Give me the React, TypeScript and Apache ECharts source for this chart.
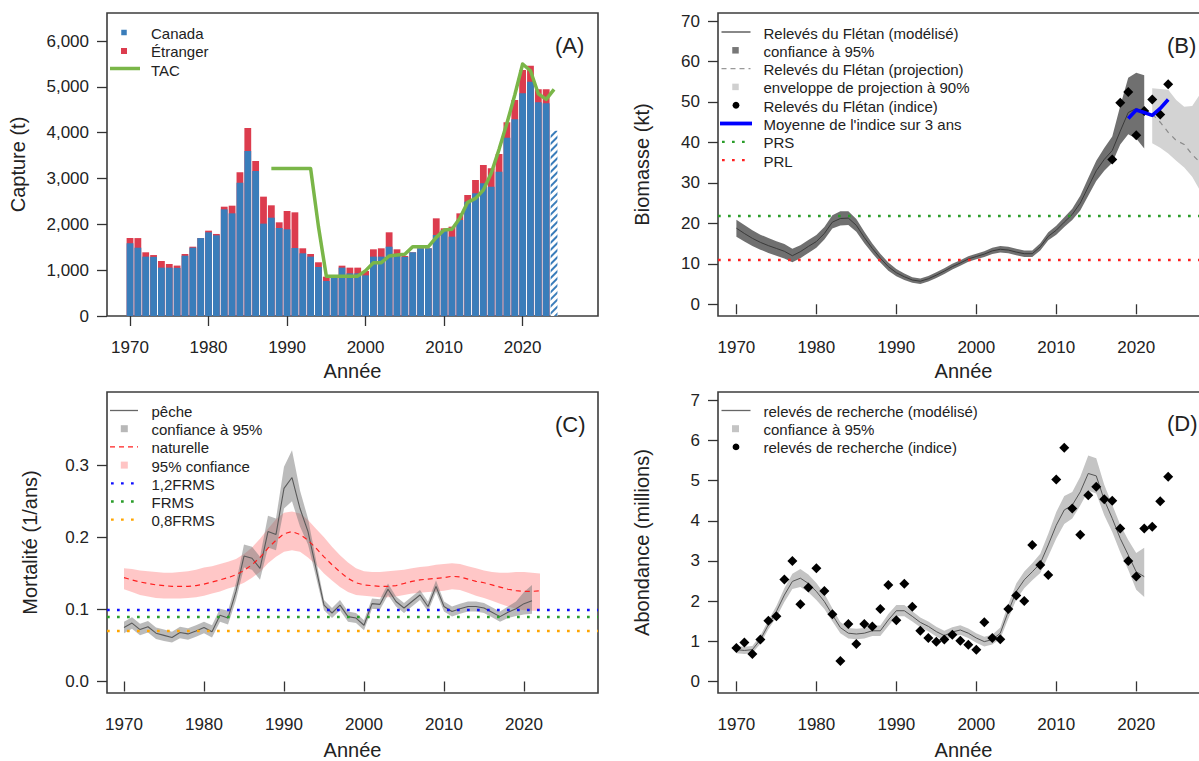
import React, { useEffect, useRef } from "react";
import * as echarts from "echarts";

const FONT = '"Liberation Sans", Arial, Helvetica, sans-serif';
const INK = "#222222";

function range(a: number, b: number): number[] {
  const r: number[] = [];
  for (let i = a; i <= b; i++) r.push(i);
  return r;
}

// ---------- Panel A : catch ----------
const catchYears = range(1970, 2023);
const canadaCatch = [
  1585, 1490, 1295, 1290, 1055, 1055, 1050, 1316, 1490, 1700,
  1826, 1760, 2327, 2240, 2910, 3600, 3164, 2015, 2145, 1920,
  1891, 1484, 1368, 1295, 1069, 764, 860, 1055, 931, 931,
  887, 1295, 1295, 1512, 1353, 1290, 1390, 1477, 1477, 1767,
  1877, 1731, 2095, 2494, 2677, 2895, 2822, 3149, 3891, 4292,
  4860, 5113, 4662, 4640,
];
const foreignCatch = [
  115, 210, 95, 40, 145, 80, 50, 37, 22, 0,
  36, 30, 58, 167, 225, 502, 218, 589, 270, 124,
  400, 778, 109, 58, 103, 94, 0, 43, 124, 124,
  95, 160, 182, 314, 102, 20, 0, 0, 0, 364,
  36, 218, 145, 146, 290, 400, 400, 386, 335, 421,
  508, 349, 284, 306,
];
const partialYears = [2024];
const partialCatch = [4044];
const tacYears = range(1988, 2024);
const tacValues = [
  3220, 3220, 3220, 3220, 3220, 3220, 1950, 870, 870, 870,
  870, 870, 990, 1163, 1163, 1310, 1330, 1345, 1512, 1512,
  1512, 1716, 1877, 1891, 2131, 2480, 2567, 2749, 3113, 3636,
  4204, 4822, 5499, 5350, 4850, 4728, 4946,
];
const catchTicks = [0, 1000, 2000, 3000, 4000, 5000, 6000];

// ---------- Panel B : biomass ----------
const bioYears = range(1970, 2021);
const bioModel = [
  18.8, 17.5, 16.3, 15.3, 14.5, 13.8, 13.1, 12.0, 13.0, 14.3,
  15.5, 17.5, 20.3, 21.2, 21.3, 19.5, 16.5, 13.8, 11.4, 9.3,
  7.8, 6.8, 6.0, 5.7, 6.3, 7.2, 8.2, 9.3, 10.2, 11.2,
  11.8, 12.4, 13.2, 13.6, 13.4, 12.9, 12.5, 12.5, 14.2, 16.8,
  18.3, 20.3, 22.2, 25.0, 29.0, 33.0, 35.8, 38.0, 42.8, 47.4,
  48.4, 47.6,
];
const bioLower = [
  16.7, 15.5, 14.4, 13.5, 12.7, 12.0, 11.3, 10.4, 11.4, 12.7,
  14.0, 16.0, 18.7, 19.5, 19.6, 17.9, 15.1, 12.6, 10.3, 8.3,
  6.9, 6.0, 5.3, 5.0, 5.6, 6.5, 7.5, 8.6, 9.5, 10.5,
  11.1, 11.7, 12.4, 12.8, 12.6, 12.1, 11.7, 11.7, 13.3, 15.8,
  17.2, 19.1, 20.8, 23.2, 26.8, 30.5, 33.0, 35.0, 39.5, 42.0,
  41.0, 38.5,
];
const bioUpper = [
  20.9, 19.6, 18.3, 17.2, 16.4, 15.6, 14.9, 13.7, 14.6, 15.9,
  17.1, 19.1, 22.0, 23.0, 23.0, 21.1, 17.9, 15.0, 12.5, 10.3,
  8.7, 7.6, 6.7, 6.4, 7.0, 7.9, 8.9, 10.0, 10.9, 11.9,
  12.5, 13.1, 14.0, 14.4, 14.2, 13.7, 13.3, 13.3, 15.1, 17.8,
  19.4, 21.5, 23.6, 26.8, 31.2, 35.5, 38.6, 41.5, 49.0, 56.0,
  57.2, 56.6,
];
const projYears = range(2022, 2028);
const projMean = [47.0, 45.0, 42.5, 40.5, 39.5, 37.0, 35.0];
const projLower = [39.8, 38.7, 37.3, 35.5, 33.8, 31.5, 28.0];
const projUpper = [53.4, 53.2, 53.0, 50.5, 48.8, 49.0, 52.0];
const bioIndexYears = range(2017, 2024);
const bioIndex = [35.8, 49.8, 52.5, 41.8, 47.8, 50.6, 46.9, 54.4];
const mean3Years = range(2019, 2024);
const mean3Values = [45.9, 48.0, 47.4, 46.7, 48.4, 50.6];
const PRS = 22;
const PRL = 11;
const bioTicks = [0, 10, 20, 30, 40, 50, 60, 70];

// ---------- Panel C : mortality ----------
const fishYears = range(1970, 2021);
const fishF = [
  0.075, 0.081, 0.072, 0.076, 0.067, 0.064, 0.061, 0.068, 0.066, 0.070,
  0.075, 0.069, 0.092, 0.088, 0.125, 0.174, 0.171, 0.157, 0.208, 0.204,
  0.268, 0.283, 0.240, 0.208, 0.157, 0.106, 0.095, 0.106, 0.090, 0.088,
  0.078, 0.108, 0.107, 0.128, 0.111, 0.102, 0.111, 0.120, 0.104, 0.132,
  0.104, 0.097, 0.101, 0.104, 0.104, 0.102, 0.096, 0.090, 0.096, 0.101,
  0.108, 0.112,
];
const fishLower = [
  0.067, 0.073, 0.064, 0.068, 0.059, 0.056, 0.054, 0.060, 0.058, 0.062,
  0.067, 0.061, 0.083, 0.079, 0.113, 0.158, 0.155, 0.141, 0.186, 0.182,
  0.240, 0.250, 0.215, 0.190, 0.145, 0.099, 0.088, 0.099, 0.083, 0.081,
  0.071, 0.101, 0.100, 0.120, 0.104, 0.095, 0.104, 0.113, 0.097, 0.124,
  0.097, 0.090, 0.094, 0.097, 0.097, 0.095, 0.089, 0.083, 0.088, 0.091,
  0.093, 0.094,
];
const fishUpper = [
  0.083, 0.089, 0.080, 0.084, 0.075, 0.072, 0.069, 0.076, 0.074, 0.078,
  0.083, 0.078, 0.101, 0.098, 0.137, 0.190, 0.187, 0.173, 0.230, 0.226,
  0.298, 0.321, 0.265, 0.226, 0.169, 0.113, 0.102, 0.113, 0.097, 0.095,
  0.085, 0.115, 0.114, 0.136, 0.118, 0.109, 0.118, 0.127, 0.111, 0.140,
  0.111, 0.104, 0.108, 0.111, 0.111, 0.109, 0.103, 0.097, 0.104, 0.111,
  0.124, 0.134,
];
const natYears = range(1970, 2022);
const natM = [
  0.144, 0.141, 0.138, 0.136, 0.134, 0.133, 0.132, 0.132, 0.132, 0.133,
  0.135, 0.138, 0.141, 0.144, 0.148, 0.154, 0.162, 0.172, 0.185, 0.196,
  0.205, 0.208, 0.204, 0.196, 0.185, 0.173, 0.162, 0.152, 0.143, 0.137,
  0.134, 0.133, 0.132, 0.132, 0.133, 0.136, 0.139, 0.141, 0.142, 0.143,
  0.144, 0.146, 0.145, 0.142, 0.139, 0.137, 0.134, 0.131, 0.128, 0.126,
  0.125, 0.125, 0.126,
];
const natLower = [
  0.128, 0.124, 0.120, 0.118, 0.116, 0.115, 0.115, 0.115, 0.116, 0.117,
  0.119, 0.122, 0.125, 0.129, 0.132, 0.137, 0.144, 0.152, 0.164, 0.173,
  0.180, 0.182, 0.180, 0.172, 0.162, 0.150, 0.140, 0.131, 0.124, 0.120,
  0.119, 0.118, 0.117, 0.117, 0.118, 0.120, 0.122, 0.123, 0.124, 0.125,
  0.126, 0.128, 0.127, 0.123, 0.119, 0.116, 0.112, 0.108, 0.104, 0.101,
  0.099, 0.098, 0.098,
];
const natUpper = [
  0.157, 0.156, 0.154, 0.153, 0.152, 0.151, 0.151, 0.152, 0.153, 0.155,
  0.158, 0.160, 0.163, 0.166, 0.170, 0.177, 0.186, 0.198, 0.212, 0.225,
  0.234, 0.236, 0.233, 0.224, 0.212, 0.200, 0.187, 0.175, 0.165, 0.157,
  0.153, 0.152, 0.152, 0.153, 0.154, 0.155, 0.157, 0.159, 0.160, 0.162,
  0.163, 0.164, 0.163, 0.160, 0.157, 0.154, 0.152, 0.151, 0.151, 0.152,
  0.152, 0.151, 0.150,
];
const F12 = 0.105;
const FRMS = 0.0877;
const F08 = 0.07;
const mortTicks = [0, 0.1, 0.2, 0.3];

// ---------- Panel D : abundance ----------
const abunYears = range(1970, 2021);
const abunModel = [
  0.79, 0.77, 0.79, 1.04, 1.41, 1.74, 2.15, 2.49, 2.57, 2.44,
  2.24, 1.99, 1.66, 1.34, 1.20, 1.18, 1.20, 1.26, 1.26, 1.53,
  1.76, 1.76, 1.62, 1.47, 1.37, 1.24, 1.14, 1.23, 1.28, 1.20,
  1.08, 0.99, 1.04, 1.20, 1.74, 2.24, 2.53, 2.73, 2.94, 3.40,
  3.89, 4.27, 4.39, 4.72, 5.18, 5.12, 4.52, 4.06, 3.56, 3.15,
  2.73, 2.61,
];
const abunLower = [
  0.70, 0.68, 0.70, 0.94, 1.30, 1.60, 1.98, 2.30, 2.35, 2.22,
  2.03, 1.80, 1.50, 1.20, 1.07, 1.05, 1.07, 1.13, 1.13, 1.38,
  1.62, 1.62, 1.49, 1.35, 1.25, 1.12, 1.02, 1.11, 1.16, 1.08,
  0.96, 0.87, 0.92, 1.06, 1.56, 2.04, 2.32, 2.52, 2.70, 3.12,
  3.56, 3.92, 4.06, 4.38, 4.75, 4.68, 4.14, 3.72, 3.22, 2.78,
  2.28, 2.10,
];
const abunUpper = [
  0.88, 0.86, 0.88, 1.14, 1.52, 1.88, 2.32, 2.68, 2.80, 2.66,
  2.45, 2.18, 1.82, 1.48, 1.33, 1.31, 1.33, 1.39, 1.39, 1.68,
  1.90, 1.90, 1.75, 1.59, 1.49, 1.36, 1.26, 1.35, 1.40, 1.32,
  1.20, 1.11, 1.16, 1.34, 1.92, 2.44, 2.74, 2.94, 3.18, 3.68,
  4.22, 4.62, 4.72, 5.10, 5.63, 5.56, 4.90, 4.40, 3.90, 3.52,
  3.20, 3.33,
];
const surveyYears = range(1970, 2024);
const surveyIndex = [
  0.83, 0.97, 0.68, 1.04, 1.51, 1.62, 2.54, 3.00, 1.92, 2.34,
  2.82, 2.25, 1.67, 0.51, 1.43, 0.93, 1.43, 1.37, 1.80, 2.40,
  1.52, 2.43, 1.86, 1.26, 1.08, 0.99, 1.04, 1.16, 1.01, 0.91,
  0.79, 1.47, 1.08, 1.05, 1.80, 2.14, 2.00, 3.40, 2.90, 2.65,
  5.03, 5.82, 4.31, 3.65, 4.64, 4.85, 4.54, 4.50, 3.81, 3.00,
  2.61, 3.81, 3.85, 4.49, 5.10,
];
const abunTicks = [0, 1, 2, 3, 4, 5, 6, 7];

const yearTicks = [1970, 1980, 1990, 2000, 2010, 2020];

const legendA = ["Canada", "Étranger", "TAC"];
const legendB = [
  "Relevés du Flétan (modélisé)",
  "confiance à 95%",
  "Relevés du Flétan (projection)",
  "enveloppe de projection à 90%",
  "Relevés du Flétan (indice)",
  "Moyenne de l'indice sur 3 ans",
  "PRS",
  "PRL",
];
const legendC = ["pêche", "confiance à 95%", "naturelle", "95% confiance", "1,2FRMS", "FRMS", "0,8FRMS"];
const legendD = ["relevés de recherche (modélisé)", "confiance à 95%", "relevés de recherche (indice)"];
const panelLabels = ["(A)", "(B)", "(C)", "(D)"];

// ---------- helpers ----------
const pairs = (xs: number[], ys: number[]) => xs.map((x, i) => [x, ys[i]]);
const totalCatch = canadaCatch.map((c, i) => c + foreignCatch[i]);

const BLUE = "#3a7dba";
const RED = "#dc3c4e";
const TACG = "#7ab648";
const DOT = [2.7, 7.3];

function xAxisCfg(gridIndex: number, min: number, max: number, nameGap: number) {
  return {
    type: "value",
    gridIndex,
    min,
    max,
    name: "Année",
    nameLocation: "middle",
    nameGap,
    nameTextStyle: { fontSize: 20, color: INK, fontFamily: FONT },
    axisLine: { show: false },
    splitLine: { show: false },
    axisTick: { show: true, inside: false, length: 10, lineStyle: { color: "#333", width: 1.3 }, customValues: yearTicks },
    axisLabel: { show: true, customValues: yearTicks, fontSize: 17, color: INK, fontFamily: FONT, margin: 23, formatter: (v: number) => String(v) },
  };
}

function yAxisCfg(gridIndex: number, min: number, max: number, name: string, nameGap: number, ticks: number[], fmt: (v: number) => string) {
  return {
    type: "value",
    gridIndex,
    min,
    max,
    name,
    nameLocation: "middle",
    nameRotate: 90,
    nameGap,
    nameTextStyle: { fontSize: 20, color: INK, fontFamily: FONT },
    axisLine: { show: false },
    splitLine: { show: false },
    axisTick: { show: true, inside: false, length: 10, lineStyle: { color: "#333", width: 1.3 }, customValues: ticks },
    axisLabel: { show: true, customValues: ticks, fontSize: 17, color: INK, fontFamily: FONT, margin: 18, formatter: fmt },
  };
}

// confidence band as one polygon drawn through the axes' scales
function bandSeries(ax: number, years: number[], lo: number[], hi: number[], color: string, z: number) {
  return {
    type: "custom",
    xAxisIndex: ax,
    yAxisIndex: ax,
    z,
    silent: true,
    clip: true,
    data: years.map((y, i) => [y, lo[i], hi[i]]),
    encode: { x: 0, y: [1, 2] },
    renderItem: (params: any, api: any) => {
      if (params.dataIndex !== 0) return null;
      const up = years.map((y, i) => api.coord([y, hi[i]]));
      const down = years.map((y, i) => api.coord([y, lo[i]])).reverse();
      return { type: "polygon", shape: { points: up.concat(down) }, style: { fill: color } };
    },
  };
}

function refLine(value: number, color: string) {
  return { yAxis: value, lineStyle: { color, type: DOT, width: 2.3, cap: "butt" } };
}

// legend graphic helpers
const gText = (x: number, y: number, text: string, size = 15) => ({
  type: "text", x, y, silent: true,
  style: { text, fill: INK, fontSize: size, fontFamily: FONT, align: "left", verticalAlign: "middle" },
});
const gLine = (x1: number, x2: number, y: number, stroke: string, lineWidth: number, lineDash?: number[]) => ({
  type: "line", silent: true, shape: { x1, y1: y, x2, y2: y },
  style: { stroke, lineWidth, lineDash: lineDash || null },
});
const gSquare = (cx: number, cy: number, s: number, fill: string) => ({
  type: "rect", silent: true, shape: { x: cx - s / 2, y: cy - s / 2, width: s, height: s }, style: { fill },
});
const gCircle = (cx: number, cy: number, r: number, fill: string) => ({
  type: "circle", silent: true, shape: { cx, cy, r }, style: { fill },
});

function buildGraphics() {
  const els: any[] = [];
  // Legend A
  const ay = [32.5, 51, 69.5];
  els.push(gSquare(124, ay[0], 5.5, BLUE));
  els.push(gSquare(124, ay[1], 6, RED));
  els.push(gLine(110, 140, ay[2] - 1, TACG, 3.5));
  legendA.forEach((t, i) => els.push(gText(151, ay[i] + 0.5, t)));
  // Legend B
  const by = legendB.map((_, i) => 32 + i * 18.3);
  els.push(gLine(721.5, 750.5, by[0], "#555", 1.4));
  els.push(gSquare(735.5, by[1], 6.5, "#777777"));
  els.push(gLine(721.5, 750.5, by[2], "#999", 1.3, [5, 4]));
  els.push(gSquare(735.5, by[3], 6.5, "#d0d0d0"));
  els.push(gCircle(736, by[4], 3.4, "#000"));
  els.push(gLine(720, 752, by[5], "#0000ff", 3.8));
  els.push(gLine(722, 752, by[6], "#2a9d2a", 2.3, DOT));
  els.push(gLine(722, 752, by[7], "#ff2020", 2.3, DOT));
  legendB.forEach((t, i) => els.push(gText(763.5, by[i] + 1, t)));
  // Legend C
  const cy = legendC.map((_, i) => 410.5 + i * 18.2);
  els.push(gLine(110, 138, cy[0], "#666", 1.3));
  els.push(gSquare(124.3, cy[1], 7, "#b8b8b8"));
  els.push(gLine(110, 138, cy[2], "#ff2020", 1.3, [5, 4]));
  els.push(gSquare(124.3, cy[3], 7, "#ffc4c4"));
  els.push(gLine(111, 141, cy[4], "#1010ff", 2.3, DOT));
  els.push(gLine(111, 141, cy[5], "#2a9d2a", 2.3, DOT));
  els.push(gLine(111, 141, cy[6], "#ffa500", 2.3, DOT));
  legendC.forEach((t, i) => els.push(gText(151.5, cy[i] + 1, t)));
  // Legend D
  const dy = legendD.map((_, i) => 410.5 + i * 18.2);
  els.push(gLine(721.5, 750.5, dy[0], "#666", 1.3));
  els.push(gSquare(735.5, dy[1], 7, "#c4c4c4"));
  els.push(gCircle(736, dy[2], 3.4, "#000"));
  legendD.forEach((t, i) => els.push(gText(763.5, dy[i] + 1, t)));
  // Panel labels
  const lp = [[555, 45], [1167, 45], [555, 424], [1167, 423]];
  panelLabels.forEach((t, i) => els.push(gText(lp[i][0], lp[i][1], t, 22)));
  return els;
}

function buildOption() {
  const gridBase = { show: true, borderColor: "#3c3c3c", borderWidth: 1.6, backgroundColor: "transparent", containLabel: false, outerBoundsMode: "none" };
  const series: any[] = [];

  // Panel A : total (red) bars, Canada (blue) drawn over them, partial year hatched
  series.push({
    type: "bar", name: "Étranger", xAxisIndex: 0, yAxisIndex: 0, barWidth: 6.8, barGap: "-100%",
    data: pairs(catchYears, totalCatch), itemStyle: { color: RED }, silent: true,
  });
  series.push({
    type: "bar", name: "Canada", xAxisIndex: 0, yAxisIndex: 0, barWidth: 6.8, barGap: "-100%",
    data: pairs(catchYears, canadaCatch), itemStyle: { color: BLUE }, silent: true,
  });
  series.push({
    type: "bar", name: "partiel", xAxisIndex: 0, yAxisIndex: 0, barWidth: 6.8, barGap: "-100%",
    data: pairs(partialYears, partialCatch), silent: true,
    itemStyle: {
      color: "#ffffff",
      decal: { symbol: "rect", symbolSize: 1, color: BLUE, dashArrayX: [1, 0], dashArrayY: [1.2, 2.6], rotation: -Math.PI / 4 },
    },
  });
  series.push({
    type: "line", name: "TAC", xAxisIndex: 0, yAxisIndex: 0, data: pairs(tacYears, tacValues),
    symbol: "none", lineStyle: { color: TACG, width: 3.5, join: "round" }, z: 5, silent: true,
  });

  // Panel B
  series.push(bandSeries(1, bioYears, bioLower, bioUpper, "#707070", 1));
  series.push(bandSeries(1, projYears, projLower, projUpper, "#d3d3d3", 1));
  series.push({
    type: "line", name: "modèle", xAxisIndex: 1, yAxisIndex: 1, data: pairs(bioYears, bioModel),
    symbol: "none", lineStyle: { color: "#3a3a3a", width: 1 }, z: 3, silent: true,
    markLine: {
      silent: true, symbol: ["none", "none"], label: { show: false },
      data: [refLine(PRS, "#2a9d2a"), refLine(PRL, "#ff2020")],
    },
  });
  series.push({
    type: "line", name: "projection", xAxisIndex: 1, yAxisIndex: 1, data: pairs(projYears, projMean),
    symbol: "none", lineStyle: { color: "#8a8a8a", width: 1.2, type: [5, 5] }, z: 3, silent: true,
  });
  series.push({
    type: "scatter", name: "indice", xAxisIndex: 1, yAxisIndex: 1, data: pairs(bioIndexYears, bioIndex),
    symbol: "diamond", symbolSize: 10, itemStyle: { color: "#000", opacity: 1 }, z: 4, silent: true,
  });
  series.push({
    type: "line", name: "moyenne", xAxisIndex: 1, yAxisIndex: 1, data: pairs(mean3Years, mean3Values),
    symbol: "none", lineStyle: { color: "#0000ff", width: 3.6, join: "round" }, z: 5, silent: true,
  });

  // Panel C
  series.push(bandSeries(2, natYears, natLower, natUpper, "rgba(255,130,130,0.45)", 1));
  series.push(bandSeries(2, fishYears, fishLower, fishUpper, "rgba(120,120,120,0.5)", 2));
  series.push({
    type: "line", name: "pêche", xAxisIndex: 2, yAxisIndex: 2, data: pairs(fishYears, fishF),
    symbol: "none", lineStyle: { color: "#5a5a5a", width: 1.1 }, z: 3, silent: true,
    markLine: {
      silent: true, symbol: ["none", "none"], label: { show: false },
      data: [refLine(F12, "#1010ff"), refLine(FRMS, "#2a9d2a"), refLine(F08, "#ffa500")],
    },
  });
  series.push({
    type: "line", name: "naturelle", xAxisIndex: 2, yAxisIndex: 2, data: pairs(natYears, natM),
    symbol: "none", lineStyle: { color: "#ff2020", width: 1.2, type: [5, 4] }, z: 3, silent: true,
  });

  // Panel D
  series.push(bandSeries(3, abunYears, abunLower, abunUpper, "#c4c4c4", 1));
  series.push({
    type: "line", name: "modélisé", xAxisIndex: 3, yAxisIndex: 3, data: pairs(abunYears, abunModel),
    symbol: "none", lineStyle: { color: "#555", width: 1 }, z: 3, silent: true,
  });
  series.push({
    type: "scatter", name: "indice D", xAxisIndex: 3, yAxisIndex: 3, data: pairs(surveyYears, surveyIndex),
    symbol: "diamond", symbolSize: 10, itemStyle: { color: "#000", opacity: 1 }, z: 4, silent: true,
  });

  return {
    animation: false,
    backgroundColor: "#ffffff",
    textStyle: { fontFamily: FONT },
    grid: [
      { ...gridBase, left: 107, top: 13, width: 491, height: 303 },
      { ...gridBase, left: 718, top: 13, width: 491, height: 303 },
      { ...gridBase, left: 107, top: 392, width: 491, height: 301 },
      { ...gridBase, left: 718, top: 392, width: 491, height: 301 },
    ],
    xAxis: [
      xAxisCfg(0, 1967.07, 2029.6, 45),
      xAxisCfg(1, 1967.7, 2029.1, 45),
      xAxisCfg(2, 1967.875, 2029.25, 47),
      xAxisCfg(3, 1967.7, 2029.1, 47),
    ],
    yAxis: [
      yAxisCfg(0, 0, 6611, "Capture (t)", 79, catchTicks, (v: number) => v.toLocaleString("en-US")),
      yAxisCfg(1, -2.9, 72, "Biomasse (kt)", 66, bioTicks, (v: number) => String(v)),
      yAxisCfg(2, -0.016, 0.4017, "Mortalité (1/ans)", 67, mortTicks, (v: number) => v.toFixed(1)),
      yAxisCfg(3, -0.29, 7.21, "Abondance (millions)", 66, abunTicks, (v: number) => String(v)),
    ],
    series,
    graphic: { elements: buildGraphics() },
  };
}

export default function App() {
  const ref = useRef<HTMLDivElement>(null);
  useEffect(() => {
    document.body.style.margin = "0";
    if (!ref.current) return;
    const chart = echarts.init(ref.current, undefined, { renderer: "svg" });
    chart.setOption(buildOption() as any);
    return () => chart.dispose();
  }, []);
  return <div ref={ref} style={{ position: "absolute", left: 0, top: 0, width: 1199, height: 761, overflow: "hidden" }} />;
}
